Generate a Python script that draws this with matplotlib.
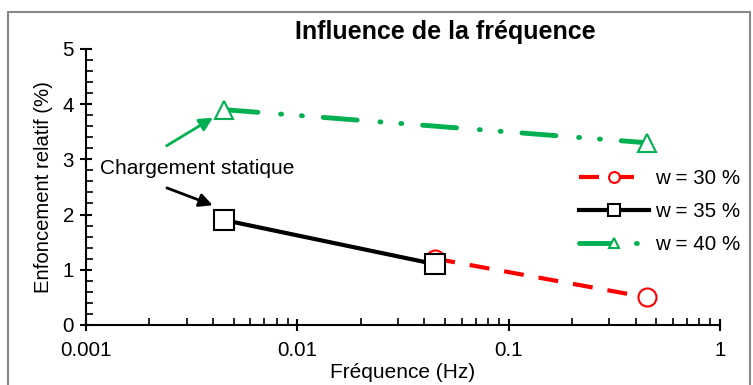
import numpy as np
import matplotlib
matplotlib.use("Agg")
import matplotlib.pyplot as plt
from matplotlib.patches import Rectangle
from matplotlib.ticker import LogLocator, MultipleLocator, FixedLocator, FixedFormatter

plt.rcParams['font.family'] = ['Liberation Sans', 'DejaVu Sans']

# données
freq_30 = [0.045, 0.45]
enf_30 = [1.2, 0.5]
freq_35 = [0.0045, 0.045]
enf_35 = [1.9, 1.1]
freq_40 = [0.0045, 0.45]
enf_40 = [3.9, 3.3]
labels = ["w = 30 %", "w = 35 %", "w = 40 %"]

fig = plt.figure(figsize=(7.53, 3.85), dpi=100)
ax = fig.add_axes([0.114, 0.156, 0.842, 0.717])

# cadre gris autour de la figure
fig.patches.append(Rectangle((0.011, -0.01), 0.985, 0.98, transform=fig.transFigure,
                             fill=False, edgecolor='#888888', linewidth=1.5))

green = '#00b050'
l30, = ax.plot(freq_30, enf_30, color='red', lw=3, ls=(0, (4.8, 3.6)), marker='o', ms=13,
               mfc='white', mec='red', mew=1.5, label=labels[0])
l35, = ax.plot(freq_35, enf_35, color='black', lw=3, ls='-', marker='s', ms=14,
               mfc='white', mec='black', mew=1.5, label=labels[1])
l40, = ax.plot(freq_40, enf_40, color=green, lw=3.5, ls=(0, (7, 4.7, 0.2, 4.1, 0.2, 4.3)),
               dash_capstyle='round', marker='^', ms=13, mfc='white', mec=green, mew=1.5,
               label=labels[2])

ax.set_xscale('log')
ax.set_xlim(0.001, 1)
ax.set_ylim(0, 5)
ax.xaxis.set_major_locator(FixedLocator([0.001, 0.01, 0.1, 1]))
ax.xaxis.set_major_formatter(FixedFormatter(['0.001', '0.01', '0.1', '1']))
ax.xaxis.set_minor_locator(LogLocator(base=10, subs=np.arange(2, 10)))
ax.yaxis.set_major_locator(MultipleLocator(1))
ax.yaxis.set_minor_locator(MultipleLocator(0.2))
ax.tick_params(which='major', direction='inout', length=9, width=1.5, labelsize=14.8, color='black')
ax.tick_params(which='minor', direction='in', length=5, width=1.2)
ax.tick_params(axis='x', which='major', pad=7)
ax.tick_params(axis='y', which='major', pad=4)

for s in ['top', 'right']:
    ax.spines[s].set_visible(False)
for s in ['left', 'bottom']:
    ax.spines[s].set_linewidth(1.5)

ax.set_xlabel('Fréquence (Hz)', fontsize=15, labelpad=2)
ax.set_ylabel('Enfoncement relatif (%)', fontsize=14.6, labelpad=7)
fig.text(0.592, 0.917, 'Influence de la fréquence', fontsize=18, fontweight='bold',
         ha='center', va='center')

ax.annotate('', xy=(0.0041, 3.78), xytext=(0.00235, 3.22),
            arrowprops=dict(arrowstyle='-|>', color=green, lw=2, mutation_scale=20))
ax.annotate('', xy=(0.0041, 2.15), xytext=(0.00235, 2.5),
            arrowprops=dict(arrowstyle='-|>', color='black', lw=2, mutation_scale=20))
ax.text(0.00117, 2.83, 'Chargement statique', fontsize=15, ha='left', va='center')

ax.legend(handles=[l30, l35, l40], loc='center left', bbox_to_anchor=(0.762, 0.41),
          frameon=False, fontsize=14.8, handlelength=3.4, handletextpad=0.3,
          labelspacing=0.68, borderpad=0, markerscale=0.6)

fig.savefig('out.png', dpi=100)
